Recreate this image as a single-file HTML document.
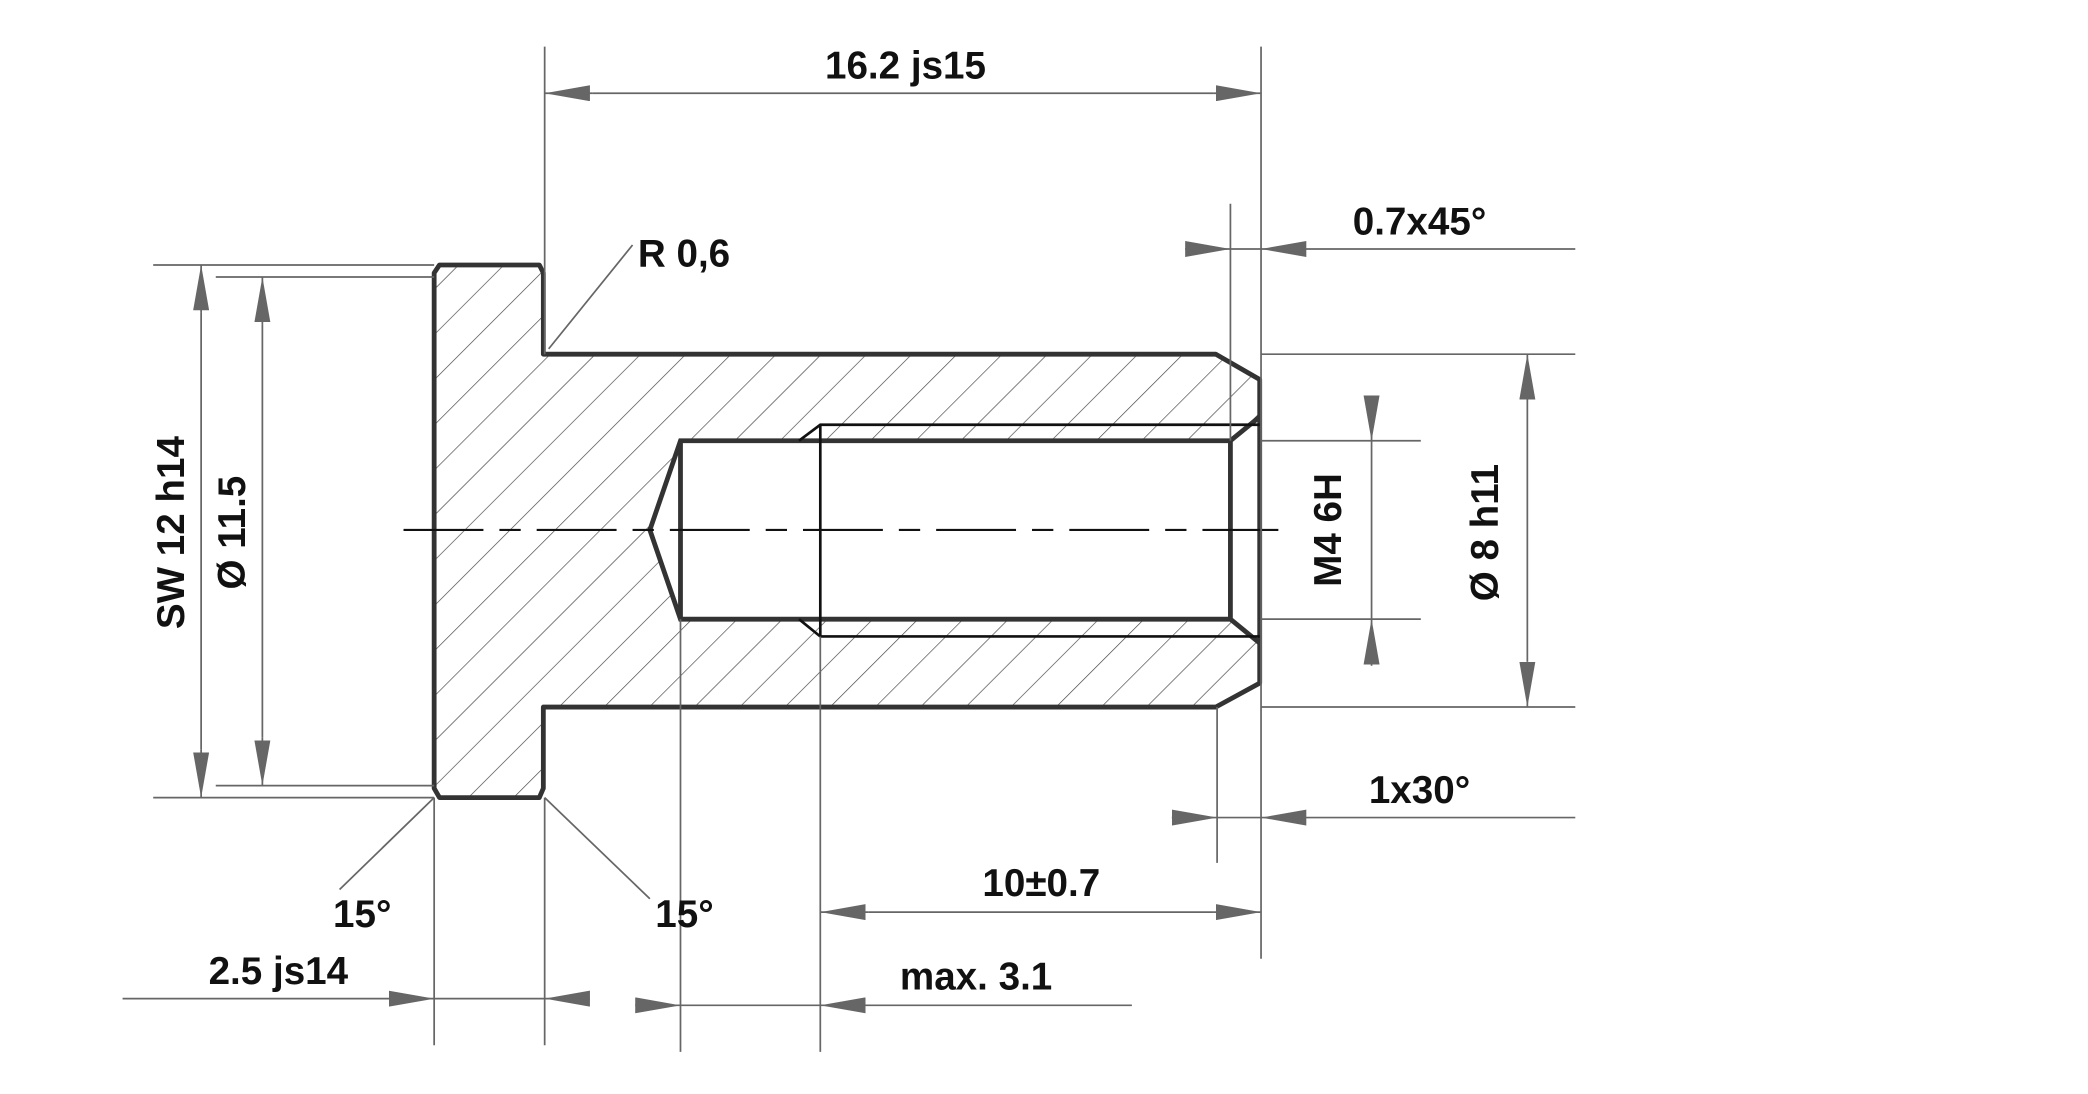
<!DOCTYPE html>
<html><head><meta charset="utf-8"><style>
html,body{margin:0;padding:0;background:#fff;}
svg{display:block;}
text{font-family:"Liberation Sans",Arial,sans-serif;font-weight:bold;font-size:29px;fill:#111;}
</style></head><body>
<svg width="2088" height="1094" viewBox="0 0 1568 821.6" xmlns="http://www.w3.org/2000/svg">
<defs>
<pattern id="h" patternUnits="userSpaceOnUse" width="24" height="24" patternTransform="rotate(45)">
<line x1="0" y1="0" x2="0" y2="24" stroke="#444" stroke-width="1"/>
</pattern>
<marker id="a" viewBox="0 0 34 12" refX="34" refY="6" markerWidth="34" markerHeight="12" markerUnits="userSpaceOnUse" orient="auto">
<path d="M0,0 L34,6 L0,12 Z" fill="#666"/>
</marker>
</defs>
<path fill-rule="evenodd" fill="url(#h)" d="M330,199 L405,199 L408,205 L408,266 L913,266 L946,285 L946,513 L913,531 L408,531 L408,592 L405,599 L330,599 L326,592 L326,205 Z M511,331 L924,331 L946,313 L946,483 L924,465 L511,465 L488,398 Z"/>
<path fill="none" stroke="#333" stroke-width="3.6" stroke-linejoin="round" d="M330,199 L405,199 L408,205 L408,266 L913,266 L946,285 L946,513 L913,531 L408,531 L408,592 L405,599 L330,599 L326,592 L326,205 Z"/>
<path fill="none" stroke="#333" stroke-width="3.6" d="M946,313 L924,331 L511,331 L488,398 L511,465 L924,465 L946,483 M924,331 L924,465 M511,331 L511,465"/>
<path fill="none" stroke="#111" stroke-width="2" d="M600,331 L616,319 L946,319 M600,465 L616,478 L946,478 M616,319 L616,478"/>
<line x1="303" y1="398" x2="960" y2="398" stroke="#111" stroke-width="1.6" stroke-dasharray="60,12,16,12"/>
<g stroke="#666" stroke-width="1.3" fill="none">
<line x1="409" y1="35" x2="409" y2="266"/>
<line x1="947" y1="35" x2="947" y2="720"/>
<line x1="924" y1="153" x2="924" y2="331"/>
<line x1="947" y1="266" x2="1183" y2="266"/>
<line x1="947" y1="531" x2="1183" y2="531"/>
<line x1="947" y1="331" x2="1067" y2="331"/>
<line x1="947" y1="465" x2="1067" y2="465"/>
<line x1="914" y1="531" x2="914" y2="648"/>
<line x1="616" y1="478" x2="616" y2="790"/>
<line x1="511" y1="465" x2="511" y2="790"/>
<line x1="326" y1="599" x2="326" y2="785"/>
<line x1="409" y1="599" x2="409" y2="785"/>
<line x1="115" y1="199" x2="326" y2="199"/>
<line x1="115" y1="599" x2="326" y2="599"/>
<line x1="162" y1="208" x2="326" y2="208"/>
<line x1="162" y1="590" x2="326" y2="590"/>
<line x1="445" y1="70" x2="409" y2="70" marker-end="url(#a)"/>
<line x1="911" y1="70" x2="947" y2="70" marker-end="url(#a)"/>
<line x1="445" y1="70" x2="911" y2="70"/>
<line x1="890" y1="187" x2="924" y2="187" marker-end="url(#a)"/>
<line x1="1183" y1="187" x2="947" y2="187" marker-end="url(#a)"/>
<line x1="924" y1="187" x2="947" y2="187"/>
<line x1="1147" y1="300" x2="1147" y2="266" marker-end="url(#a)"/>
<line x1="1147" y1="497" x2="1147" y2="531" marker-end="url(#a)"/>
<line x1="1147" y1="300" x2="1147" y2="497"/>
<line x1="1030" y1="297" x2="1030" y2="331" marker-end="url(#a)"/>
<line x1="1030" y1="500" x2="1030" y2="465" marker-end="url(#a)"/>
<line x1="1030" y1="331" x2="1030" y2="465"/>
<line x1="880" y1="614" x2="914" y2="614" marker-end="url(#a)"/>
<line x1="1183" y1="614" x2="947" y2="614" marker-end="url(#a)"/>
<line x1="914" y1="614" x2="947" y2="614"/>
<line x1="652" y1="685" x2="616" y2="685" marker-end="url(#a)"/>
<line x1="911" y1="685" x2="947" y2="685" marker-end="url(#a)"/>
<line x1="652" y1="685" x2="911" y2="685"/>
<line x1="477" y1="755" x2="511" y2="755" marker-end="url(#a)"/>
<line x1="850" y1="755" x2="616" y2="755" marker-end="url(#a)"/>
<line x1="511" y1="755" x2="616" y2="755"/>
<line x1="92" y1="750" x2="326" y2="750" marker-end="url(#a)"/>
<line x1="443" y1="750" x2="409" y2="750" marker-end="url(#a)"/>
<line x1="326" y1="750" x2="409" y2="750"/>
<line x1="151" y1="235" x2="151" y2="199" marker-end="url(#a)"/>
<line x1="151" y1="563" x2="151" y2="599" marker-end="url(#a)"/>
<line x1="151" y1="235" x2="151" y2="563"/>
<line x1="197" y1="244" x2="197" y2="208" marker-end="url(#a)"/>
<line x1="197" y1="554" x2="197" y2="590" marker-end="url(#a)"/>
<line x1="197" y1="244" x2="197" y2="554"/>
<line x1="412" y1="262" x2="475" y2="184"/>
<line x1="326" y1="599" x2="255" y2="668"/>
<line x1="409" y1="599" x2="488" y2="675"/>
</g>
<text x="680" y="59" text-anchor="middle">16.2 js15</text>
<text x="1066" y="176" text-anchor="middle">0.7x45°</text>
<text x="1066" y="603" text-anchor="middle">1x30°</text>
<text x="782" y="673" text-anchor="middle">10±0.7</text>
<text x="733" y="743" text-anchor="middle">max. 3.1</text>
<text x="209" y="739" text-anchor="middle">2.5 js14</text>
<text x="479" y="200">R 0,6</text>
<text x="272" y="696" text-anchor="middle">15°</text>
<text x="514" y="696" text-anchor="middle">15°</text>
<text transform="translate(138,400) rotate(-90)" text-anchor="middle">SW 12 h14</text>
<text transform="translate(184,400) rotate(-90)" text-anchor="middle">Ø 11.5</text>
<text transform="translate(1007,398) rotate(-90)" text-anchor="middle">M4 6H</text>
<text transform="translate(1125,400) rotate(-90)" text-anchor="middle">Ø 8 h11</text>
</svg>
</body></html>
